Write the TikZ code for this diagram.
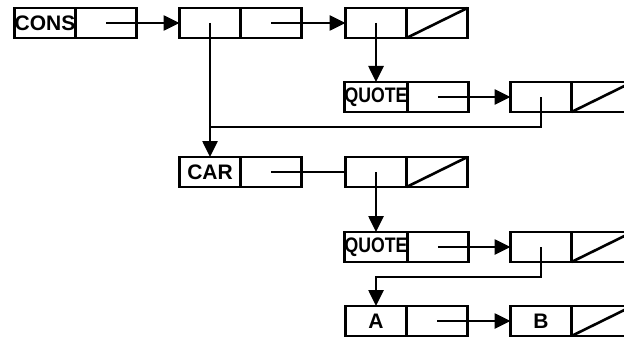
\documentclass[tikz,border=0pt]{standalone}
\usepackage{fontspec}
\setmainfont{Liberation Sans}
\usepackage{graphicx}
\usetikzlibrary{positioning, arrows.meta}

\begin{document}
\begin{tikzpicture}[x=1pt, y=-1pt,
  cell/.style={draw, line width=2.4pt, minimum width=61pt, minimum height=30pt,
    inner sep=0pt, outer sep=0pt},
  atom/.style={cell, font=\bfseries\fontsize{21}{21}\selectfont},
  ptr/.style={line width=2.6pt, -{Triangle[length=16pt, width=15pt]}},
  link/.style={line width=2.6pt}]
  \useasboundingbox (0,0) rectangle (624,337);

  % --- row 1 ---
  \node[atom] (cons) at (45,23) {CONS};
  \node[cell, right=0pt of cons] (consd) {};
  \node[cell] (c1a) at (210,23) {};
  \node[cell, right=0pt of c1a] (c1d) {};
  \node[cell] (c2a) at (376,23) {};
  \node[cell, right=0pt of c2a] (c2d) {};
  \draw[link] (c2d.south west) -- (c2d.north east);

  % --- row 2 ---
  \node[atom] (qa) at (376,97) {\scalebox{0.84}[1]{QUOTE}};
  \node[cell, right=0pt of qa] (qad) {};
  \node[cell] (c3a) at (541,97) {};
  \node[cell, right=0pt of c3a] (c3d) {};
  \draw[link] (c3d.south west) -- (c3d.north east);

  % --- row 3 ---
  \node[atom] (car) at (210,172) {CAR};
  \node[cell, right=0pt of car] (card) {};
  \node[cell] (c4a) at (376,172) {};
  \node[cell, right=0pt of c4a] (c4d) {};
  \draw[link] (c4d.south west) -- (c4d.north east);

  % --- row 4 ---
  \node[atom] (qb) at (376,247) {\scalebox{0.84}[1]{QUOTE}};
  \node[cell, right=0pt of qb] (qbd) {};
  \node[cell] (c5a) at (541,247) {};
  \node[cell, right=0pt of c5a] (c5d) {};
  \draw[link] (c5d.south west) -- (c5d.north east);

  % --- row 5 ---
  \node[atom] (a) at (376,321) {A};
  \node[cell, right=0pt of a] (ad) {};
  \node[atom] (b) at (541,321) {B};
  \node[cell, right=0pt of b] (bd) {};
  \draw[link] (bd.south west) -- (bd.north east);

  % --- pointers ---
  \coordinate (j1) at (210,127);
  \coordinate (j2) at (376,277);
  \draw[ptr] (consd.center) -- (c1a.west);
  \draw[ptr] (c1d.center) -- (c2a.west);
  \draw[ptr] (c1a.center) -- (car.north);
  \draw[ptr] (c2a.center) -- (qa.north);
  \draw[ptr] (qad.center) -- (c3a.west);
  \draw[link] (c3a.center) |- (j1);
  \draw[link] (card.center) -- (c4a.west);
  \draw[ptr] (c4a.center) -- (qb.north);
  \draw[ptr] (qbd.center) -- (c5a.west);
  \draw[ptr] (c5a.center) |- (j2) -- (a.north);
  \draw[ptr] (ad.center) -- (b.west);
\end{tikzpicture}
\end{document}
